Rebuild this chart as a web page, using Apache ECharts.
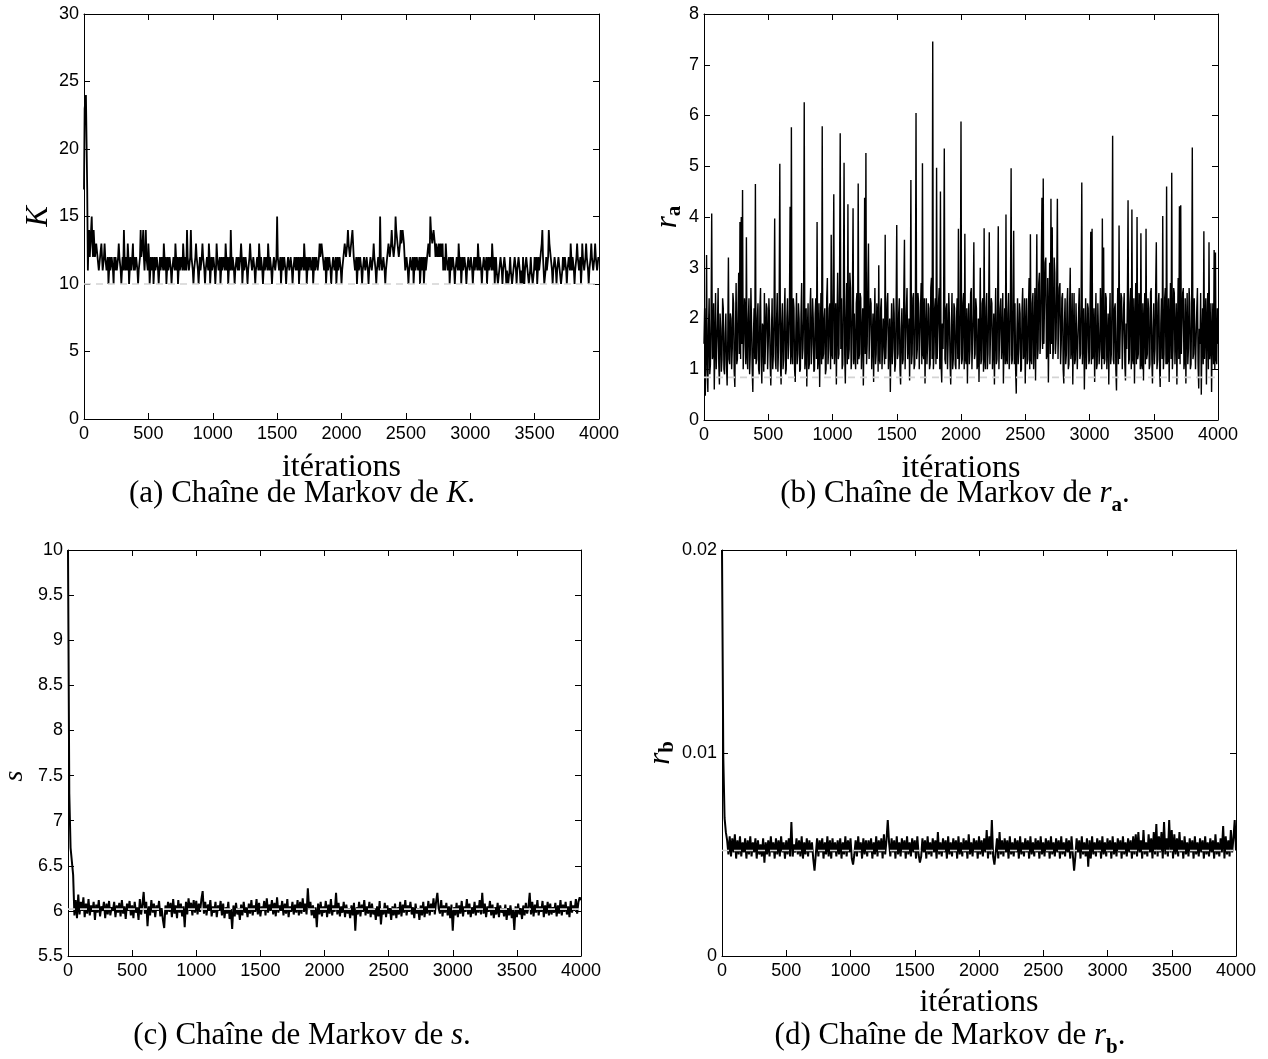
<!DOCTYPE html>
<html><head><meta charset="utf-8">
<script src="https://cdn.jsdelivr.net/npm/echarts@6/dist/echarts.min.js"></script>
<style>html,body{margin:0;padding:0;background:#fff}#c{width:1268px;height:1059px}</style>
</head><body><div id="c"></div>
<script>
// Markov chain traces.
// K and r_a: one sample every 5 iterations; s and r_b: one sample every 10 iterations.
const kStep = 5, raStep = 5, sStep = 10, rbStep = 10;
const kValues = [
17,23,23,24,24,17,11,13,14,12,13,14,15,13,12,14,14,12,12,13,13,12,12,11,11,12,12,13,13,11,11,12,13,12,12,11,11,12,10,11,
12,11,11,12,12,11,10,12,11,12,12,11,11,12,13,12,12,11,10,11,12,11,14,12,11,12,12,11,13,12,10,11,12,11,11,12,13,11,12,11,
11,12,12,11,10,11,11,12,14,12,12,13,14,12,11,12,14,12,12,11,13,12,10,11,12,11,11,12,10,11,12,11,11,12,12,11,10,11,12,11,
11,12,12,11,13,12,11,12,10,11,12,11,11,12,12,11,10,11,11,12,12,11,13,12,11,12,10,11,12,11,11,12,12,11,13,12,11,12,12,11,
14,12,12,11,11,12,14,12,12,11,10,11,11,12,13,12,12,11,10,11,12,11,11,12,13,12,12,11,10,11,11,12,12,11,13,12,10,11,12,11,
11,12,12,11,10,11,13,12,12,11,11,12,10,11,12,11,11,12,12,11,13,12,11,12,10,11,12,11,14,12,11,12,12,11,10,11,11,12,12,11,
12,11,11,12,13,12,10,11,12,11,11,12,12,11,10,11,11,12,13,12,12,11,11,12,12,11,10,11,11,12,12,11,13,12,11,12,12,11,10,11,
12,11,11,12,12,11,13,12,11,12,12,11,10,11,11,12,12,11,11,12,15,12,12,11,11,12,10,11,12,11,11,12,12,11,10,11,11,12,12,11,
11,12,12,11,10,11,11,12,12,11,12,11,11,12,10,11,12,11,11,12,12,11,13,12,11,12,10,11,12,11,11,12,12,11,11,12,10,11,12,11,
11,12,12,11,11,12,13,12,12,13,13,12,12,11,11,12,10,11,12,11,11,12,12,11,10,11,11,12,12,11,11,12,10,11,12,11,11,12,12,11,
10,11,11,12,12,13,13,12,12,13,14,13,13,12,12,13,13,14,14,12,12,11,11,12,10,11,12,11,11,12,12,11,10,11,11,12,12,11,11,12,
12,11,10,11,11,12,12,11,11,12,13,12,12,11,10,11,11,12,12,11,15,12,12,11,11,12,12,11,10,11,11,12,12,13,13,12,12,13,14,13,
13,12,12,13,15,14,14,13,13,12,12,13,14,13,13,14,14,13,12,11,11,12,12,11,10,11,11,12,12,11,11,12,10,11,12,11,11,12,12,11,
11,12,10,11,12,11,11,12,10,11,12,11,11,12,12,13,13,12,15,14,14,13,13,14,14,13,12,13,13,12,12,13,12,12,13,12,12,13,11,12,
12,11,13,12,12,11,11,12,10,11,12,11,11,12,12,11,10,11,11,12,12,11,13,12,11,12,10,11,12,11,11,12,12,11,10,11,11,12,12,11,
11,12,12,11,10,11,12,11,11,12,12,11,13,12,11,12,12,11,10,11,11,12,12,11,11,12,10,11,12,11,11,12,12,11,13,12,11,12,10,11,
12,11,11,10,10,11,11,12,12,11,10,11,11,12,12,11,10,11,11,10,10,11,12,11,11,10,10,11,11,12,12,11,10,11,11,12,12,11,10,11,
11,10,12,11,10,11,11,12,12,11,11,10,10,11,12,11,11,10,10,11,12,11,11,12,10,11,12,11,11,12,12,13,14,12,11,10,10,11,12,11,
11,12,14,13,13,12,12,11,10,11,11,12,12,11,10,11,11,12,12,11,11,10,10,11,12,11,11,12,12,11,10,11,11,12,12,11,13,12,11,12,
12,11,10,11,11,12,13,12,12,11,11,12,10,11,13,12,12,11,11,12,13,12,12,11,10,11,11,12,13,12,12,11,11,12,13,12,12,11,11,12,
12];
const raValues = [
1.5,2.2,0.48,1.3,3.25,1.0,0.55,1.8,2.4,0.9,1.1,2.0,4.07,1.2,1.3,2.3,0.6,1.5,2.5,1.0,1.0,1.9,2.6,1.1,0.7,2.1,1.8,0.95,1.2,2.4,2.2,1.0,0.9,1.7,2.1,1.1,0.68,1.6,3.2,1.2,
1.1,2.1,2.0,1.0,1.4,2.5,2.3,0.95,0.65,1.8,2.7,1.1,1.2,2.2,2.9,1.3,3.9,1.2,4.0,1.5,4.53,1.0,1.5,2.4,2.1,1.1,3.6,1.3,1.0,2.0,2.4,0.9,1.3,2.6,1.9,1.0,0.55,1.7,2.2,1.2,
4.65,1.1,1.2,2.0,2.3,1.0,0.9,2.2,2.6,1.2,0.72,1.9,1.8,0.95,2.5,1.1,1.1,2.3,2.2,1.0,1.5,2.4,2.0,1.1,0.68,1.7,2.4,1.0,1.3,2.1,3.97,1.2,1.0,2.0,2.5,0.95,1.4,2.2,5.05,1.1,
0.7,1.9,2.3,1.0,1.2,2.1,2.6,0.9,1.0,2.0,2.4,1.2,1.5,2.2,4.2,1.1,5.77,1.3,1.1,2.4,2.2,1.0,0.75,1.8,2.5,1.1,1.3,2.3,2.0,0.95,1.0,2.1,2.7,1.2,1.4,2.0,6.26,1.0,1.2,2.2,
0.66,1.8,2.3,1.0,1.1,2.2,2.6,1.1,1.5,2.4,2.0,0.95,1.0,2.1,2.4,1.2,3.9,1.0,1.2,2.3,0.65,1.6,2.5,1.1,5.79,1.2,1.3,2.0,2.2,0.9,1.0,2.4,2.8,1.1,1.4,2.2,2.3,1.0,3.65,1.3,
1.2,2.6,4.45,1.1,1.5,2.3,0.7,1.9,2.9,1.2,1.3,2.8,5.65,1.4,2.4,1.0,1.1,2.5,5.07,1.3,0.72,2.0,2.7,1.1,4.25,1.2,1.4,2.9,2.6,1.0,1.2,2.4,4.17,1.1,2.1,1.3,1.0,2.3,2.5,1.1,
4.66,1.2,1.3,2.5,2.4,1.0,1.0,2.2,0.68,1.7,4.38,1.3,5.26,1.1,1.5,2.7,3.48,1.2,1.2,2.4,2.3,1.0,1.0,2.1,0.75,1.8,2.6,1.1,1.3,2.3,2.1,0.95,3.05,1.2,1.1,2.2,2.4,1.0,1.4,2.0,
2.0,1.1,3.65,1.2,1.2,2.3,2.5,1.0,1.0,2.0,0.55,1.6,2.3,1.1,1.4,2.4,2.1,0.95,1.1,2.2,3.84,1.2,1.3,2.1,2.4,1.0,0.7,1.8,2.2,1.1,1.2,2.5,3.55,1.0,1.0,2.2,2.6,1.2,1.5,2.0,
0.78,1.9,4.73,1.1,1.3,2.4,2.5,1.0,1.1,2.1,6.05,1.2,1.4,2.5,2.3,1.0,1.0,2.2,2.7,1.1,5.06,1.3,1.2,2.4,0.72,1.7,2.4,1.1,1.5,2.3,2.2,1.0,1.1,2.6,2.8,1.2,7.46,1.0,1.3,2.2,
2.4,1.1,4.97,1.2,1.2,2.3,2.6,1.0,4.5,1.1,0.74,1.9,1.4,2.4,5.35,1.2,1.1,2.2,2.3,1.0,1.5,2.5,2.0,1.1,0.7,1.8,2.5,1.0,1.2,2.3,2.2,1.1,1.0,2.0,2.4,1.2,3.77,1.0,1.3,2.2,
5.88,1.1,1.2,2.3,2.5,1.0,3.67,1.2,1.1,2.2,0.72,1.8,2.3,1.1,1.4,2.5,2.6,1.0,1.0,2.1,3.5,1.2,1.3,2.4,2.2,1.0,1.1,2.0,0.75,1.7,3.0,1.1,1.2,2.3,2.4,0.95,3.78,1.2,1.0,2.2,
2.5,1.0,1.3,2.2,3.7,1.1,1.1,2.4,2.3,1.0,1.4,2.1,0.7,1.8,2.6,1.1,1.2,2.3,3.82,1.0,1.0,2.2,2.4,1.2,1.5,2.5,0.72,1.6,2.2,1.1,4.05,1.2,1.1,2.1,2.5,1.0,1.3,2.4,4.96,1.1,
1.2,2.2,3.73,1.1,2.3,1.0,0.52,1.7,2.4,1.1,1.4,2.3,2.1,0.95,1.0,2.2,2.6,1.2,1.3,2.4,0.72,1.8,2.4,1.1,1.2,2.2,2.8,1.0,3.66,1.2,1.1,2.3,2.5,1.0,1.5,2.6,0.78,1.9,3.66,1.2,
1.4,2.7,2.9,1.3,1.6,3.0,4.38,1.4,4.76,1.5,1.5,3.1,3.2,1.2,1.3,2.8,0.74,2.0,3.1,1.3,4.36,1.5,3.8,1.2,1.4,3.2,2.9,1.3,1.6,2.7,4.36,1.2,1.2,2.6,2.7,1.1,1.5,2.4,2.5,1.0,
0.72,1.9,2.4,1.1,1.3,2.3,2.6,1.0,1.1,2.2,3.0,1.2,1.4,2.5,0.7,1.7,2.5,1.1,1.2,2.3,2.3,1.0,1.0,2.1,2.6,1.2,1.3,2.4,4.68,1.1,1.1,2.2,0.6,1.6,2.4,1.0,1.4,2.3,2.2,1.1,
1.2,2.4,3.71,1.1,3.77,1.2,1.3,2.2,0.75,1.8,2.5,1.0,1.1,2.3,2.3,1.1,1.4,2.6,2.6,1.0,3.97,1.2,3.4,1.1,1.2,2.5,2.4,1.0,1.0,2.1,0.7,1.8,2.5,1.1,1.3,2.4,5.6,1.2,1.1,2.2,
2.3,1.0,0.58,1.8,2.6,1.1,3.83,1.2,1.2,2.5,2.4,1.0,1.0,2.2,2.5,1.1,0.78,1.9,1.4,2.4,4.33,1.1,1.2,2.3,2.6,1.0,4.15,1.2,1.1,2.4,0.72,1.8,2.7,1.1,4.0,1.2,1.3,2.5,2.4,1.0,
3.68,1.1,1.0,2.3,0.78,1.9,2.5,1.1,3.77,1.2,1.3,2.4,2.2,1.0,1.1,2.5,2.6,1.2,0.72,1.8,2.3,1.1,1.4,2.6,3.5,1.0,1.2,2.3,2.5,1.1,0.65,1.9,2.4,1.2,4.02,1.0,1.3,2.4,2.6,1.1,
4.6,1.1,1.2,2.4,0.75,1.9,2.7,1.2,4.87,1.0,1.4,2.6,2.5,1.1,1.1,2.3,0.7,1.8,2.8,1.2,4.21,1.1,4.23,1.3,1.3,2.5,2.6,1.0,1.2,2.4,0.72,1.9,2.5,1.1,1.4,2.6,2.3,1.0,1.1,2.2,
5.37,1.2,1.3,2.4,2.4,1.0,1.0,2.2,2.6,1.1,0.62,1.8,1.5,2.5,0.5,1.6,2.2,1.1,3.72,1.2,1.2,2.4,0.7,1.9,2.5,1.0,3.5,1.2,1.4,2.3,0.55,1.7,2.3,1.1,3.35,1.0,3.3,1.2,1.1,2.2,
1.5];
const sValues = [
10.0,7.3,6.7,6.55,6.4,5.95,6.12,5.92,6.18,5.96,6.1,6.0,6.15,5.93,6.08,5.97,6.13,5.95,6.06,5.99,
6.1,5.9,6.07,5.98,6.12,5.94,6.05,6.0,6.1,5.92,6.08,5.96,6.11,5.95,6.04,6.0,6.1,5.93,6.06,5.98,
6.09,5.94,6.12,5.97,6.05,5.91,6.08,6.0,6.11,5.95,6.06,5.92,6.1,5.98,6.04,5.9,6.13,5.96,6.07,6.21,
5.97,6.1,5.83,6.05,5.95,6.12,5.98,6.08,5.93,6.06,6.0,6.11,5.94,6.03,5.9,5.81,6.06,5.96,6.1,5.99,
6.09,5.93,6.13,5.97,6.06,5.92,6.12,5.98,6.08,5.94,6.05,5.82,6.1,5.96,6.14,6.0,6.09,5.95,6.12,5.98,
6.11,5.96,6.08,5.99,6.13,6.22,5.97,6.1,5.95,6.07,6.0,6.12,5.94,6.05,5.98,6.1,5.93,6.06,6.0,6.11,
5.95,6.08,5.92,6.04,5.97,6.1,5.91,6.02,5.8,6.06,5.94,6.09,5.96,6.03,5.9,6.07,5.95,6.1,5.98,6.04,
5.93,6.08,5.97,6.12,5.95,6.06,5.99,6.13,5.96,6.09,5.94,6.05,6.0,6.11,5.95,6.14,5.98,6.07,6.0,6.12,
5.96,6.09,5.94,6.15,5.98,6.06,6.0,6.11,5.95,6.08,5.97,6.13,5.93,6.05,5.99,6.1,5.96,6.07,5.98,6.12,
5.95,6.1,5.97,6.14,5.99,6.08,5.96,6.25,6.02,6.1,5.95,6.06,5.92,6.04,5.82,6.08,5.96,6.1,5.94,6.05,
5.98,6.11,5.93,6.07,5.97,6.13,5.95,6.06,5.99,6.2,5.96,6.09,5.94,6.05,5.98,6.1,5.93,6.07,5.97,6.03,
5.92,6.06,5.95,6.09,5.78,6.04,5.96,6.1,5.94,6.07,5.99,6.12,5.95,6.05,5.97,6.1,5.93,6.08,5.96,6.03,
5.9,6.05,5.94,6.11,5.85,6.02,5.96,6.09,5.93,6.06,5.97,6.03,5.9,6.05,5.95,6.08,5.92,6.04,5.96,6.1,
5.94,6.07,5.98,6.12,5.95,6.06,5.99,6.1,5.96,6.04,5.92,6.08,5.97,6.03,5.9,6.06,5.95,6.1,5.93,6.05,
5.97,6.11,5.95,6.08,5.99,6.14,5.96,6.1,6.2,6.03,5.97,6.12,5.94,6.06,5.98,6.09,5.95,6.05,5.92,6.07,
5.78,6.04,5.95,6.09,5.93,6.06,5.97,6.11,5.94,6.05,5.99,6.13,5.96,6.08,5.93,6.04,5.97,6.1,5.95,6.06,
5.98,6.12,5.96,6.2,5.97,6.08,5.93,6.05,5.99,6.11,5.95,6.07,5.92,6.04,5.96,6.09,5.93,6.06,5.98,6.03,
5.94,6.07,5.9,6.03,5.95,6.06,5.92,6.02,5.79,6.05,5.93,6.08,5.96,6.03,5.91,6.06,5.95,6.09,5.97,6.04,
6.2,5.96,6.1,5.94,6.07,5.98,6.12,5.95,6.05,5.99,6.11,5.93,6.06,5.97,6.1,5.95,6.08,5.96,6.04,5.98,
6.09,5.94,6.06,5.97,6.12,5.95,6.07,5.99,6.1,5.96,6.05,5.93,6.11,5.98,6.06,6.0,6.13,5.97,6.1,6.15,
6.12];
const rbValues = [
0.02,0.0098,0.0068,0.0061,0.0057,0.005,0.0059,0.0049,0.0058,0.0051,0.006,0.0048,0.0057,0.005,0.0059,0.0049,0.0056,0.0051,0.0058,0.0048,
0.0057,0.005,0.0059,0.0049,0.0056,0.0051,0.0058,0.0048,0.0057,0.005,0.0055,0.0049,0.0058,0.0046,0.0056,0.005,0.0057,0.0049,0.0059,0.0051,
0.0056,0.0048,0.0058,0.005,0.0057,0.0049,0.0059,0.0051,0.0056,0.0048,0.0057,0.005,0.0058,0.0049,0.0066,0.0049,0.0055,0.0051,0.0058,0.005,
0.0057,0.0049,0.0059,0.0048,0.0056,0.005,0.0058,0.0049,0.0057,0.0051,0.0056,0.0048,0.0042,0.005,0.0058,0.0049,0.0057,0.0051,0.0058,0.0048,
0.0056,0.005,0.0059,0.0049,0.0057,0.0048,0.0058,0.0051,0.0056,0.0049,0.0057,0.005,0.0058,0.0048,0.0056,0.005,0.0059,0.0049,0.0057,0.0051,
0.0058,0.0048,0.0045,0.005,0.0057,0.0049,0.0059,0.0051,0.0056,0.0048,0.0058,0.005,0.0057,0.0049,0.0057,0.0051,0.0058,0.0048,0.0056,0.005,
0.0059,0.0049,0.0057,0.0051,0.0058,0.0048,0.006,0.005,0.0057,0.0067,0.0056,0.0049,0.0058,0.0051,0.0057,0.0048,0.0059,0.005,0.0056,0.0049,
0.0058,0.0051,0.0057,0.0048,0.0059,0.005,0.0056,0.0049,0.0058,0.0051,0.0057,0.0048,0.0059,0.005,0.0046,0.0049,0.0058,0.0051,0.0057,0.0048,
0.0059,0.005,0.0056,0.0049,0.0058,0.0051,0.0057,0.0048,0.0061,0.005,0.0056,0.0049,0.0058,0.0051,0.0057,0.0048,0.0059,0.005,0.0056,0.0049,
0.0058,0.0051,0.0057,0.0048,0.0059,0.005,0.0056,0.0049,0.0058,0.0051,0.0057,0.0048,0.006,0.005,0.0056,0.0049,0.0058,0.0051,0.0057,0.0048,
0.0059,0.005,0.0057,0.0049,0.0058,0.0051,0.0062,0.0048,0.0059,0.005,0.0067,0.0049,0.0045,0.0051,0.0058,0.0048,0.0061,0.005,0.0057,0.0049,
0.0058,0.0051,0.0057,0.0048,0.0059,0.005,0.0056,0.0049,0.0058,0.0051,0.0057,0.0048,0.0059,0.005,0.0056,0.0049,0.0058,0.0051,0.0057,0.0048,
0.0059,0.005,0.0056,0.0049,0.0058,0.0051,0.0057,0.0048,0.0059,0.005,0.0056,0.0049,0.0058,0.0051,0.0057,0.0048,0.0059,0.005,0.0056,0.0049,
0.0058,0.0051,0.0057,0.0048,0.0059,0.005,0.0056,0.0049,0.0058,0.0051,0.0057,0.0048,0.0059,0.005,0.0042,0.0049,0.0058,0.0051,0.0057,0.0048,
0.0059,0.005,0.0056,0.0049,0.0058,0.0044,0.0057,0.0048,0.0059,0.005,0.0056,0.0049,0.0058,0.0051,0.0057,0.0048,0.0059,0.005,0.0056,0.0049,
0.0058,0.0051,0.0057,0.0048,0.0059,0.005,0.0056,0.0049,0.0058,0.0051,0.0057,0.0048,0.0059,0.005,0.0056,0.0049,0.0058,0.0051,0.0057,0.0048,
0.0059,0.005,0.006,0.0049,0.0061,0.0051,0.0057,0.0048,0.0062,0.005,0.0056,0.0049,0.006,0.0051,0.0058,0.0048,0.0061,0.005,0.0065,0.0049,
0.0059,0.0051,0.0061,0.0048,0.0066,0.005,0.0058,0.0049,0.0067,0.0051,0.0062,0.0048,0.006,0.005,0.0058,0.0049,0.0061,0.0051,0.0057,0.0048,
0.0059,0.005,0.0056,0.0049,0.0058,0.0051,0.0057,0.0048,0.0059,0.005,0.0056,0.0049,0.0058,0.0051,0.0057,0.0048,0.0059,0.005,0.0056,0.0049,
0.0058,0.0051,0.0057,0.0048,0.006,0.005,0.0056,0.0049,0.0058,0.0051,0.0064,0.0048,0.0059,0.005,0.0057,0.0049,0.0062,0.0051,0.0058,0.0067,
0.0052];
// true parameter values (dashed reference lines)
const kTrue = 10, raTrue = 0.84, sTrue = 6.02, rbTrue = 0.0052;
const xMin = 0, xMax = 4000, xInterval = 500;
const yRanges = [[0, 30, 5], [0, 8, 1], [5.5, 10, 0.5], [0, 0.02, 0.01]];

const SANS = '"Liberation Sans", Arial, Helvetica, sans-serif';
const SERIF = '"Liberation Serif", "Times New Roman", serif';

const grids = [
  {left: 84, top: 14, width: 515, height: 405},
  {left: 704, top: 14, width: 514, height: 406},
  {left: 66, top: 550, width: 515, height: 406},
  {left: 722, top: 550, width: 514, height: 406}
];

const richName = {
  i: {fontFamily: SERIF, fontStyle: 'italic', fontSize: 31, lineHeight: 34, color: '#000'},
  s: {fontFamily: SERIF, fontStyle: 'italic', fontSize: 28, lineHeight: 34, color: '#000'},
  b: {fontFamily: SERIF, fontWeight: 'bold', fontSize: 21, lineHeight: 22, verticalAlign: 'bottom', color: '#000'}
};
const yNames = ['{i|K}', '{i|r}{b|a}', '{s|s}', '{i|r}{b|b}'];
const yNameGaps = [28, 16, 36, 44];
const yNamePads = [[0, 0, 0, 0], [0, 0, 0, 0], [0, 46, 0, 0], [0, 0, 0, 0]];
const xNames = ['itérations', 'itérations', '', 'itérations'];
const xNameGaps = [33, 33, 33, 31];

const xAxes = [], yAxes = [];
grids.forEach((g, i) => {
  const common = {
    gridIndex: i, type: 'value', min: xMin, max: xMax, interval: xInterval,
    axisLine: {show: true, onZero: false, lineStyle: {color: '#000', width: 1}},
    axisTick: {show: true, inside: true, length: 6, lineStyle: {color: '#000'}},
    splitLine: {show: false}
  };
  xAxes.push(Object.assign({}, common, {
    position: 'bottom',
    name: xNames[i], nameLocation: 'middle', nameGap: xNameGaps[i],
    nameTextStyle: {fontFamily: SERIF, fontSize: 32, color: '#000'},
    axisLabel: {show: true, margin: 6, fontFamily: SANS, fontSize: 18, color: '#000',
      formatter: v => String(v)}
  }));
  xAxes.push(Object.assign({}, common, {position: 'top', axisLabel: {show: false}}));
  const [mn, mx, iv] = yRanges[i];
  const ycommon = {
    gridIndex: i, type: 'value', min: mn, max: mx, interval: iv,
    axisLine: {show: true, onZero: false, lineStyle: {color: '#000', width: 1}},
    axisTick: {show: true, inside: true, length: 6, lineStyle: {color: '#000'}},
    splitLine: {show: false}
  };
  yAxes.push(Object.assign({}, ycommon, {
    position: 'left',
    name: yNames[i], nameLocation: 'middle', nameGap: yNameGaps[i], nameRotate: 90,
    nameTextStyle: {rich: richName, padding: yNamePads[i]},
    axisLabel: {show: true, margin: 5, fontFamily: SANS, fontSize: 18, color: '#000',
      formatter: v => String(v)}
  }));
  yAxes.push(Object.assign({}, ycommon, {position: 'right', axisLabel: {show: false}}));
});

const traces = [kValues, raValues, sValues, rbValues];
const steps = [kStep, raStep, sStep, rbStep];
const widths = [1.8, 1.4, 2, 2];
const truths = [kTrue, raTrue, sTrue, rbTrue];
const series = [];
traces.forEach((vals, i) => {
  series.push({
    type: 'line', xAxisIndex: 2 * i, yAxisIndex: 2 * i,
    data: vals.map((v, j) => [j * steps[i], v]),
    step: i === 0 ? 'end' : false,
    showSymbol: false, symbol: 'none', silent: true,
    lineStyle: {color: '#000', width: widths[i]}, z: 2
  });
  series.push({
    type: 'line', xAxisIndex: 2 * i, yAxisIndex: 2 * i,
    data: [[xMin, truths[i]], [xMax, truths[i]]],
    showSymbol: false, symbol: 'none', silent: true,
    lineStyle: {color: '#d4d4d4', width: 1.6, type: [7, 5]}, z: 3
  });
});

const capRich = {
  n: {fontFamily: SERIF, fontSize: 31, color: '#000'},
  i: {fontFamily: SERIF, fontStyle: 'italic', fontSize: 31, color: '#000'},
  b: {fontFamily: SERIF, fontWeight: 'bold', fontSize: 21, lineHeight: 44, verticalAlign: 'bottom', color: '#000'}
};
const captions = [
  {x: 302, y: 494, text: '{n|(a) Chaîne de Markov de }{i|K}{n|.}'},
  {x: 955, y: 494, text: '{n|(b) Chaîne de Markov de }{i|r}{b|a}{n|.}'},
  {x: 302, y: 1036, text: '{n|(c) Chaîne de Markov de }{i|s}{n|.}'},
  {x: 950, y: 1036, text: '{n|(d) Chaîne de Markov de }{i|r}{b|b}{n|.}'}
];

const chart = echarts.init(document.getElementById('c'), null, {renderer: 'canvas'});
chart.setOption({
  animation: false,
  backgroundColor: '#fff',
  grid: grids,
  xAxis: xAxes,
  yAxis: yAxes,
  series: series,
  graphic: captions.map(c => ({
    type: 'text', x: c.x, y: c.y,
    style: {text: c.text, rich: capRich, align: 'center', verticalAlign: 'middle'}
  }))
});
</script></body></html>
